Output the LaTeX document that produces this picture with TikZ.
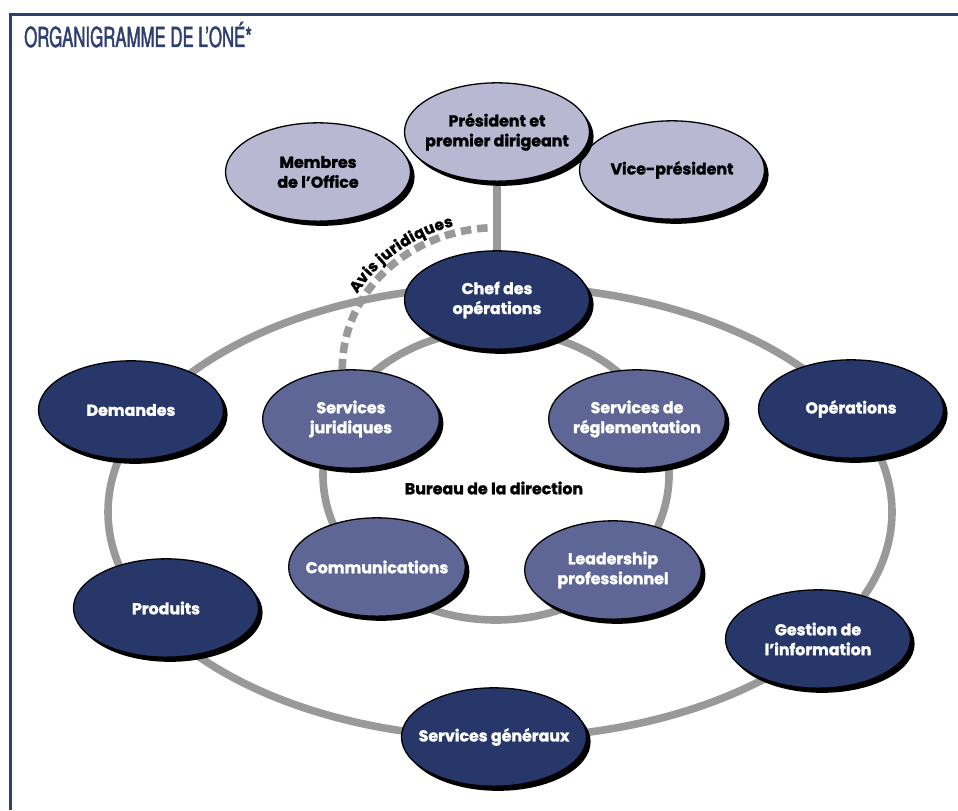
\documentclass[tikz,border=0pt]{standalone}
\usepackage{fontspec}
\setmainfont{Poppins}[BoldFeatures={FakeBold=1.6}]
\newfontfamily\titlefont[FakeStretch=0.61, FakeBold=1.6]{TeX Gyre Heros}
\usetikzlibrary{shapes,shadows,backgrounds,calc,decorations.text}
\definecolor{navy}{HTML}{27376A}
\definecolor{midblue}{HTML}{5E6696}
\definecolor{lilac}{HTML}{B9B8D3}
\definecolor{ringgray}{HTML}{999999}
\definecolor{frameblue}{HTML}{2E3F70}
\tikzset{
  bubble/.style={draw=black, line width=1.1pt, ellipse, inner sep=0pt,
    minimum width=5.55cm, minimum height=2.95cm,
    drop shadow={shadow xshift=3.5pt, shadow yshift=-4pt, fill=black, opacity=1}},
  topbub/.style={bubble, fill=lilac},
  divbub/.style={bubble, fill=navy},
  bureaubub/.style={bubble, fill=midblue, minimum width=5.3cm},
  btext/.style={font=\fontsize{13.5}{17}\selectfont\bfseries, align=center, text=white},
  dtext/.style={btext, text=black},
  ring/.style={draw=ringgray, line width=6.5pt},
  avisline/.style={draw=ringgray, line width=6.5pt, dash pattern=on 9pt off 5pt},
}
\begin{document}
\begin{tikzpicture}[x=0.03cm, y=0.03cm]
    \useasboundingbox (0,0) rectangle (958,810);
    % frame and title
    \draw[frameblue, line width=2.5pt] (10.5,0) -- (10.5,795.5) -- (958,795.5);
    \node[anchor=base west, inner sep=0pt, text=frameblue, font=\titlefont\fontsize{23.5}{24}\selectfont] (title) at (24,763) {ORGANIGRAMME DE L’ONÉ*};

    % top level
    \node[topbub, label={[dtext]center:{Membres\\de l’Office}}] (membres) at (318,638) {};
    \node[topbub, label={[dtext]center:Vice-président}] (vice) at (672,640) {};
    \node[topbub, label={[dtext]center:{Président et\\premier dirigeant}}] (pres) at (497,678) {};
    \node[divbub, label={[btext]center:{Chef des\\opérations}}] (chef) at (497,510) {};

    % outer ring
    \node[divbub, label={[btext]center:Demandes}] (dem) at (131,400) {};
    \node[divbub, label={[btext]center:Opérations}] (ops) at (851,401) {};
    \node[divbub, label={[btext]center:Produits}] (prod) at (166,202) {};
    \node[divbub, label={[btext]center:{Gestion de\\l’information}}] (gest) at (818,171) {};
    \node[divbub, label={[btext]center:Services généraux}] (gen) at (494,73) {};

    % inner ring (bureau de la direction)
    \node[bureaubub, label={[btext]center:{Services\\juridiques}}] (jur) at (351,391) {};
    \node[bureaubub, label={[btext]center:{Services de\\réglementation}}] (regl) at (637,391) {};
    \node[bureaubub, label={[btext]center:Communications}] (comm) at (377,243) {};
    \node[bureaubub, label={[btext]center:{Leadership\\professionnel}}] (lead) at (613,240) {};
    \node[dtext] (bureau) at (494,322) {Bureau de la direction};

    % rings and links behind the bubbles
    \begin{scope}[on background layer]
        \draw[ring] (500,298) ellipse [x radius=392, y radius=226];
        \draw[ring] (496,335) ellipse [x radius=173, y radius=145];
        \draw[ring] (pres) -- (chef);
        \coordinate (avis) at ($(pres.south)!0.67!(chef.north)$);
        \draw[avisline, postaction={decorate, decoration={text along path, raise=6pt,
            text align={center, left indent=1.0cm},
            text={|\bfseries\fontsize{13}{14}\selectfont|{Av}is juridiques}}}]
            (jur.100) to[out=90, in=180] (avis);
    \end{scope}
\end{tikzpicture}
\end{document}
